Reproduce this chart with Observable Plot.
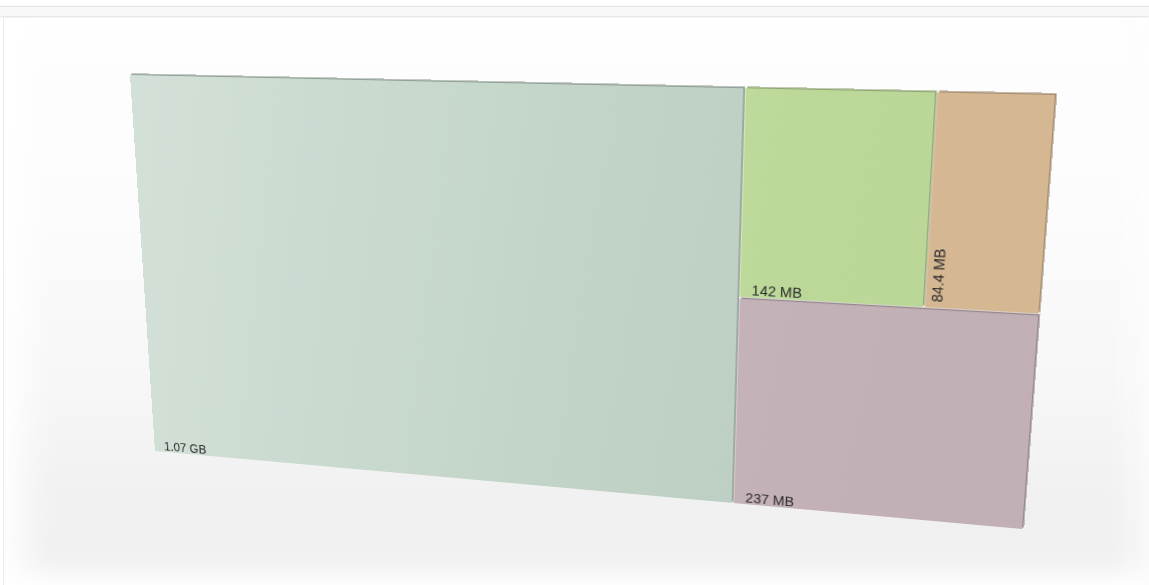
<!DOCTYPE html>
<html>
<head>
<meta charset="utf-8">
<script src="https://cdn.jsdelivr.net/npm/d3@7"></script>
<script src="https://cdn.jsdelivr.net/npm/@observablehq/plot@0.6"></script>
<style>
  html, body { margin: 0; padding: 0; }
  body { width: 1149px; height: 585px; position: relative; overflow: hidden; background: #ffffff; font-family: "Liberation Sans", Arial, sans-serif; }
  #topbar { position: absolute; left: 0; top: 7px; width: 1149px; height: 9px; background: #f8f8f8;
            box-shadow: 0 -1px 1px #e4e4e4, 0 1px 2px #dcdcdc; }
  #panel { position: absolute; left: 3px; top: 18px; width: 1146px; height: 567px;
           border-left: 1px solid #ececec;
           background: linear-gradient(to bottom, #fefefe 0px, #fcfcfc 180px, #f7f7f7 360px, #f1f1f1 470px, #f0f0f0 530px, #f3f3f3 548px, #fdfdfd 567px);
           box-shadow: inset 40px 0 40px -20px #ffffff, inset -30px 0 40px -20px #fdfdfd; }
  #chart { position: absolute; left: 0; top: 0; }
</style>
</head>
<body>
<div id="topbar"></div>
<div id="panel"></div>
<div id="chart"></div>
<script>
// ---- data ----
const labels  = ["1.07 GB", "237 MB", "142 MB", "84.4 MB"];
const sizesMB = [1070, 237, 142, 84.4];
const palette = ["#bfd2c5", "#c6b3ba", "#bedb9a", "#d9bb95"];

// ---- flat treemap layout ----
const W = 920, H = 420;
const root = d3.hierarchy({children: labels.map((l, i) => ({label: l, size: sizesMB[i]}))})
  .sum(d => d.size || 0);
d3.treemap().tile(d3.treemapBinary).size([W, H]).paddingInner(2)(root);
const cells = root.leaves().map(n => ({
  label: n.data.label, x0: n.x0, x1: n.x1, y0: n.y0, y1: n.y1,
  tall: (n.x1 - n.x0) < 0.7 * (n.y1 - n.y0)
}));
const flat = cells.filter(d => !d.tall);
const tall = cells.filter(d => d.tall);

const svg = Plot.plot({
  width: W, height: H,
  margin: 0,
  style: {background: "none", overflow: "visible", fontFamily: "Liberation Sans, Arial, sans-serif"},
  x: {domain: [0, W], axis: null},
  y: {domain: [0, H], axis: null},
  color: {domain: labels, range: palette},
  marks: [
    // slab edge (thickness)
    Plot.rect(cells, {x1: "x0", x2: "x1", y1: "y0", y2: "y1", dx: 1.5, dy: -1.5,
      fill: d => d3.color(palette[labels.indexOf(d.label)]).darker(0.8).formatHex()}),
    Plot.rect(cells, {x1: "x0", x2: "x1", y1: "y0", y2: "y1", fill: "label"}),
    Plot.rect(cells, {x1: "x0", x2: "x1", y1: "y0", y2: "y1", fill: "url(#shine)"}),
    Plot.text(flat, {x: "x0", y: "y0", text: "label", textAnchor: "start", lineAnchor: "bottom",
      dx: 11, dy: -3, fontSize: 14, fill: "#2b2b2b"}),
    Plot.text(tall, {x: "x0", y: "y0", text: "label", textAnchor: "start", lineAnchor: "top",
      rotate: -90, dx: 5, dy: -6, fontSize: 14, fill: "#2b2b2b"})
  ]
});

// gradient used for the subtle lighting
const defs = d3.select(svg).insert("defs", ":first-child");
const g = defs.append("linearGradient").attr("id", "shine")
  .attr("gradientUnits", "userSpaceOnUse")
  .attr("x1", 0).attr("y1", 0).attr("x2", W).attr("y2", H * 0.35);
g.append("stop").attr("offset", "0%").attr("stop-color", "#ffffff").attr("stop-opacity", 0.32);
g.append("stop").attr("offset", "55%").attr("stop-color", "#ffffff").attr("stop-opacity", 0.04);
g.append("stop").attr("offset", "100%").attr("stop-color", "#000000").attr("stop-opacity", 0.02);

// ---- perspective view: map the flat plot onto the tilted plane ----
const corners = [[130, 75], [1055, 95], [1022, 529], [155, 451]]; // TL, TR, BR, BL on screen
function squareToQuad([[x0, y0], [x1, y1], [x2, y2], [x3, y3]]) {
  const dx1 = x1 - x2, dx2 = x3 - x2, dx3 = x0 - x1 + x2 - x3;
  const dy1 = y1 - y2, dy2 = y3 - y2, dy3 = y0 - y1 + y2 - y3;
  const det = dx1 * dy2 - dx2 * dy1;
  const g = (dx3 * dy2 - dx2 * dy3) / det;
  const h = (dx1 * dy3 - dx3 * dy1) / det;
  return {a: x1 - x0 + g * x1, b: x3 - x0 + h * x3, c: x0,
          d: y1 - y0 + g * y1, e: y3 - y0 + h * y3, f: y0, g, h};
}
const m = squareToQuad(corners);
const mat = [m.a / W, m.d / W, 0, m.g / W,
             m.b / H, m.e / H, 0, m.h / H,
             0, 0, 1, 0,
             m.c, m.f, 0, 1];
svg.style.position = "absolute";
svg.style.left = "0px";
svg.style.top = "0px";
svg.style.maxWidth = "none";
svg.style.transformOrigin = "0 0";
svg.style.transform = `matrix3d(${mat.join(",")})`;
document.getElementById("chart").appendChild(svg);
</script>
</body>
</html>
